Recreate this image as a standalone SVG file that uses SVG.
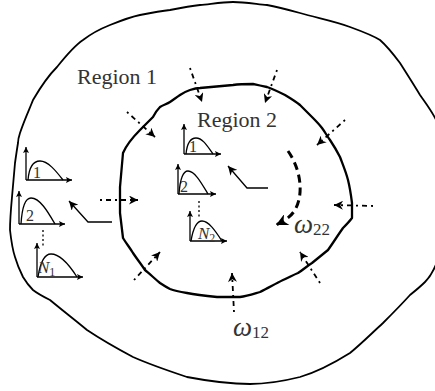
<svg xmlns="http://www.w3.org/2000/svg" width="435" height="391" viewBox="0 0 435 391">
<style>
.bnd{fill:none;stroke:#000;stroke-linejoin:round;stroke-linecap:round}
.ax{fill:none;stroke:#000;stroke-width:1.3}
.cv{fill:none;stroke:#000;stroke-width:1.3}
.dot{fill:none;stroke:#000;stroke-width:1.3;stroke-dasharray:2,2.5}
.da{fill:none;stroke:#000;stroke-width:1.8;stroke-dasharray:2,4,5,4}
.sa{fill:none;stroke:#000;stroke-width:1.3}
.lbl{font-family:"Liberation Serif",serif;fill:#333}
.it{font-style:italic}
</style>
<defs>
<marker id="ax" viewBox="0 0 10 10" refX="10" refY="5" markerWidth="6" markerHeight="6" markerUnits="userSpaceOnUse" orient="auto"><path d="M0,0 L10,5 L0,10 L2,5 z" fill="#000"/></marker>
<marker id="ah" viewBox="0 0 10 10" refX="10" refY="5" markerWidth="10" markerHeight="9" markerUnits="userSpaceOnUse" orient="auto"><path d="M0,0 L10,5 L0,10 L3,5 z" fill="#000"/></marker>
<marker id="ab" viewBox="0 0 10 10" refX="10" refY="5" markerWidth="13" markerHeight="12" markerUnits="userSpaceOnUse" orient="auto"><path d="M0,0 L10,5 L0,10 L3,5 z" fill="#000"/></marker>
</defs>

<g id="region1">
<path class="bnd" stroke-width="1.8" d="M20,133 C25,118 30,108 33,100 C40,88 48,76 57,67 C65,57 74,46 83,40 C92,33 100,29 110,25 C120,21 130,17 140,15 C150,13 160,11 170,10 C180,8 190,6 200,5 C211,4 222,2 233,2 C244,2 256,4 267,5 C278,7 289,10 300,13 C317,18 334,21 350,27 C361,31 372,35 380,40 C388,47 394,55 400,63 C407,74 414,85 420,95 C427,105 434,114 438,124 C445,150 448,175 446,200 C444,222 441,245 437,262 C434,270 430,277 425,282 C420,287 415,291 410,295 C401,305 392,314 383,323 C372,333 361,344 350,353 C334,363 317,372 300,377 C284,381 267,384 250,384 C229,384 208,381 187,377 C169,371 151,365 133,357 C118,349 102,340 87,330 C75,320 62,310 50,300 C44,297 38,294 33,290 C29,286 26,282 23,277 C20,271 17,264 15,257 C12,248 11,239 10,230 C10,219 11,208 12,197 C13,186 14,174 15,163 C16,156 17,149 18,143 C18,139 19,136 20,133 Z"/>
<text class="lbl" x="77" y="84" font-size="22">Region 1</text>
</g>

<g id="region2">
<path class="bnd" stroke-width="2.3" d="M200,88 C211,87 222,86 233,85 C240,84 246,84 253,84 C258,85 262,86 267,87 C273,89 279,92 285,95 C290,98 295,101 300,105 C304,109 308,113 312,117 C316,121 319,124 322,128 C325,132 327,136 330,140 C334,146 337,151 340,157 C343,165 346,172 348,180 C350,188 351,195 352,203 C352,208 352,213 352,218 C349,222 346,225 343,228 C338,235 333,243 328,250 C323,254 317,259 312,263 C307,266 303,270 298,273 C293,275 288,278 283,280 C275,284 268,288 260,292 C253,294 247,296 240,297 C232,297 225,297 217,297 C207,296 197,295 187,293 C181,292 175,291 170,289 C166,287 163,285 160,283 C155,279 150,274 145,270 C141,264 137,259 133,253 C130,248 126,243 123,238 C122,230 121,221 120,213 C120,204 120,196 120,187 C121,176 122,164 123,153 C126,146 132,138 140,130 C145,125 149,121 153,117 C155,113 157,110 160,107 C163,105 167,104 170,102 C173,100 177,97 180,95 C183,93 187,91 190,90 C193,89 197,88 200,88 Z"/>
<text class="lbl" x="197" y="127" font-size="22">Region 2</text>
</g>

<g id="plot-l1">
<line class="ax" x1="26" y1="180" x2="26" y2="147" marker-end="url(#ax)"/>
<line class="ax" x1="26" y1="180" x2="72" y2="180" marker-end="url(#ax)"/>
<path class="cv" d="M28,180 C29,168 33,161 40,161 C48,161 56,171 63,180"/>
<text class="lbl" x="33" y="178" font-size="16">1</text>
</g>
<g id="plot-l2">
<line class="ax" x1="19" y1="224" x2="19" y2="191" marker-end="url(#ax)"/>
<line class="ax" x1="19" y1="224" x2="65" y2="224" marker-end="url(#ax)"/>
<path class="cv" d="M21,224 C22,208 25,198 31,198 C40,198 48,212 55,224"/>
<text class="lbl" x="26" y="221" font-size="16">2</text>
</g>
<line class="dot" x1="43" y1="230" x2="43" y2="247"/>
<g id="plot-l3">
<line class="ax" x1="37" y1="277" x2="37" y2="243" marker-end="url(#ax)"/>
<line class="ax" x1="37" y1="277" x2="83" y2="277" marker-end="url(#ax)"/>
<path class="cv" d="M38,277 C40,264 44,254 51,254 C60,254 70,266 77,277"/>
<text class="lbl it" x="38" y="273" font-size="17">N<tspan class="lbl" font-style="normal" font-size="12" dy="3">1</tspan></text>
</g>

<g id="plot-c1">
<line class="ax" x1="184" y1="154" x2="184" y2="124" marker-end="url(#ax)"/>
<line class="ax" x1="184" y1="154" x2="221" y2="154" marker-end="url(#ax)"/>
<path class="cv" d="M186,154 C187,144 190,138 196,138 C203,138 208,147 213,154"/>
<text class="lbl" x="189" y="152" font-size="16">1</text>
</g>
<g id="plot-c2">
<line class="ax" x1="178" y1="194" x2="178" y2="164" marker-end="url(#ax)"/>
<line class="ax" x1="178" y1="194" x2="216" y2="194" marker-end="url(#ax)"/>
<path class="cv" d="M179,194 C180,180 183,171 188,171 C195,171 202,184 208,194"/>
<text class="lbl" x="180" y="192" font-size="16">2</text>
</g>
<line class="dot" x1="199" y1="201" x2="199" y2="217"/>
<g id="plot-c3">
<line class="ax" x1="190" y1="241" x2="190" y2="211" marker-end="url(#ax)"/>
<line class="ax" x1="190" y1="241" x2="227" y2="241" marker-end="url(#ax)"/>
<path class="cv" d="M191,241 C193,229 196,221 202,221 C209,221 216,232 222,241"/>
<text class="lbl it" x="198" y="239" font-size="17">N<tspan class="lbl" font-style="normal" font-size="12" dy="3">2</tspan></text>
</g>

<g id="connectors">
<line class="da" x1="190" y1="68" x2="202" y2="102" marker-end="url(#ah)"/>
<line class="da" x1="277" y1="70" x2="265" y2="103" marker-end="url(#ah)"/>
<line class="da" x1="127" y1="112" x2="155" y2="137" marker-end="url(#ah)"/>
<line class="da" x1="345" y1="120" x2="317" y2="145" marker-end="url(#ah)"/>
<line class="da" x1="100" y1="200" x2="138" y2="200" marker-end="url(#ah)"/>
<line class="da" x1="373" y1="206" x2="334" y2="205" marker-end="url(#ah)"/>
<line class="da" x1="134" y1="280" x2="160" y2="252" marker-end="url(#ah)"/>
<line class="da" x1="320" y1="283" x2="300" y2="252" marker-end="url(#ah)"/>
<line class="da" x1="234" y1="312" x2="232" y2="273" marker-end="url(#ah)"/>
<path fill="none" stroke="#000" stroke-width="3" stroke-dasharray="8,5" d="M288,151 C300,168 304,192 296,208 C292,216 286,220 276,225" marker-end="url(#ab)"/>
<polyline class="sa" points="268,188 247,188 228,166" marker-end="url(#ah)"/>
<polyline class="sa" points="112,222 88,222 69,201" marker-end="url(#ah)"/>
</g>

<g id="omega22">
<text class="lbl it" x="294" y="233" font-size="27">ω<tspan font-style="normal" font-size="17" dy="2">22</tspan></text>
</g>
<g id="omega12">
<text class="lbl it" x="233" y="336" font-size="27">ω<tspan font-style="normal" font-size="17" dy="2">12</tspan></text>
</g>
</svg>
